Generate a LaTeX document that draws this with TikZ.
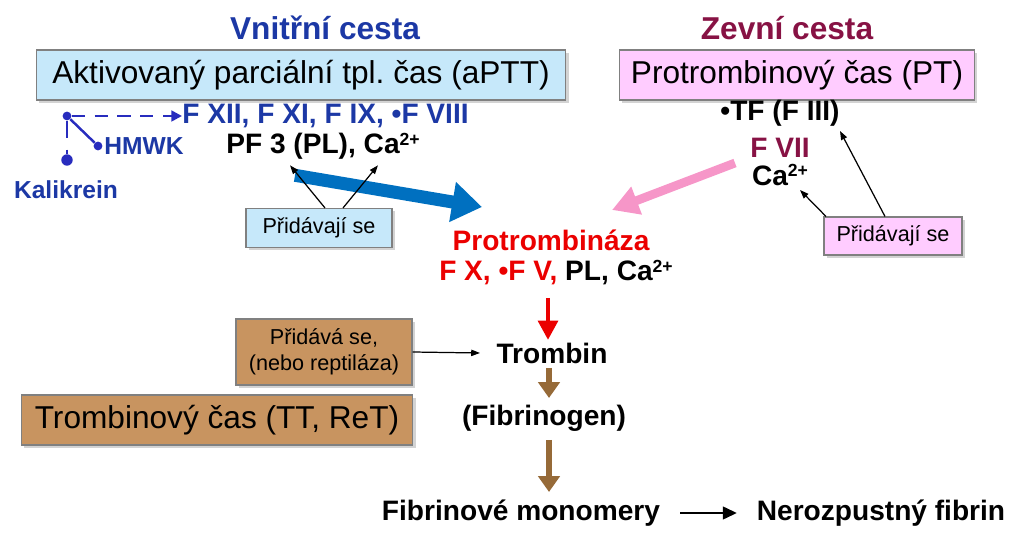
\documentclass[tikz,border=0pt]{standalone}
\usepackage{fontspec}
\setmainfont{Liberation Sans}
\usepackage{tikz}
\usetikzlibrary{arrows.meta,shadows}
\usepackage{color}
\definecolor{bb}{RGB}{198,232,250}
\definecolor{pp}{RGB}{255,204,255}
\definecolor{hn}{RGB}{200,148,96}
\definecolor{hs}{RGB}{150,106,56}
\definecolor{mb}{RGB}{28,56,165}
\definecolor{vb}{RGB}{40,44,190}
\definecolor{mr}{RGB}{135,18,68}
\definecolor{rd}{RGB}{235,0,0}
\definecolor{ab}{RGB}{0,112,192}
\definecolor{ap}{RGB}{246,150,200}
\def\catwo{Ca\raisebox{4.6pt}{\fontsize{10}{10}\selectfont 2+}}
\tikzset{
  cesta/.style={font=\fontsize{18}{21}\selectfont\bfseries},
  testbox/.style={draw=gray, line width=0.6pt, minimum height=1cm, font=\fontsize{18}{21}\selectfont,
    drop shadow={shadow xshift=1.5pt, shadow yshift=-1.5pt, opacity=0.35}},
  addbox/.style={draw=gray, line width=0.6pt, font=\fontsize{12.3}{15}\selectfont, align=center,
    drop shadow={shadow xshift=1.5pt, shadow yshift=-1.5pt, opacity=0.35}},
  factor/.style={font=\fontsize{16}{19}\selectfont\bfseries},
  small/.style={font=\fontsize{14}{17}\selectfont\bfseries, text=mb},
  dot/.style={circle, fill=vb, inner sep=0pt, minimum size=#1},
  pointer/.style={line width=0.7pt, -{Triangle[length=5pt,width=3.6pt]}},
  fat/.style={line width=#1}
}
\begin{document}
\begin{tikzpicture}[x=0.02cm, y=-0.02cm]
\useasboundingbox (0,0) rectangle (1024,536);
\node[cesta, text=mb] (vc) at (325,28) {Vnitřní cesta};
\node[cesta, text=mr] (zc) at (787,28) {Zevní cesta};
\node[testbox, fill=bb, minimum width=10.6cm] (aptt) at (301,75) {Aktivovaný parciální tpl.\ čas (aPTT)};
\node[testbox, fill=pp, minimum width=7.1cm] (pt) at (797,75) {Protrombinový čas (PT)};

\node[factor, text=mb, anchor=west, inner sep=0pt] (fxii) at (182,116) {F XII, F XI, F IX, •F VIII};
\node[factor] (pf) at (323,146) {PF 3 (PL), \catwo};
\node[small, anchor=west, inner sep=0pt] (hmwk) at (104,146) {HMWK};
\node[small] (kal) at (66,190) {Kalikrein};
\node[dot=5pt] (d1) at (67,116) {};
\node[dot=5pt] (d2) at (98,146) {};
\node[dot=6.5pt] (d3) at (67,160) {};
\draw[vb, line width=1.7pt, dash pattern=on 7.5pt off 5.5pt, -{Triangle[length=6pt,width=6pt]}] (d1) -- (fxii.west);
\draw[vb, line width=1.4pt] (d1) -- (d2);
\draw[vb, line width=1.7pt, dash pattern=on 10pt off 6.5pt] (d1) -- (d3);

\node[factor] (tf) at (780,113) {•TF (F III)};
\node[factor, text=mr] (fvii) at (780,148) {F VII};
\node[factor] (ca) at (780,175) {\catwo};

\node[factor, text=rd] (prot) at (551,240) {Protrombináza};
\node[factor] (fx) at (556,273) {\textcolor{rd}{F X, •F V,} PL, \catwo};

\draw[fat=7.4pt, ab, -{Triangle[length=17pt,width=22pt]}] ([shift={(-28,10)}]pf.south) -- ([shift={(-69,-33)}]prot.center);
\draw[fat=5pt, ap, -{Triangle[length=15pt,width=16pt]}] ([shift={(-45,15)}]fvii.center) -- ([shift={(61,-30)}]prot.center);

\node[addbox, fill=bb, minimum width=2.92cm, minimum height=0.78cm] (add1) at (319,228) {Přidávají se};
\draw[pointer] ([xshift=0.12cm]add1.north) -- ([xshift=-0.66cm]pf.south);
\draw[pointer] ([xshift=0.48cm]add1.north) -- ([xshift=1.1cm]pf.south);

\node[addbox, fill=pp, minimum width=2.76cm, minimum height=0.76cm] (add2) at (893,236) {Přidávají se};
\draw[pointer] ([xshift=-0.16cm]add2.north) -- ([shift={(60,18)}]tf.center);
\draw[pointer] ([xshift=-1.34cm]add2.north) -- ([shift={(20,15)}]ca.center);

\node[factor] (tromb) at (552,353) {Trombin};
\node[factor] (fib) at (544,418) {(Fibrinogen)};
\node[factor] (mono) at (521,513) {Fibrinové monomery};
\node[factor] (nero) at (881,513) {Nerozpustný fibrin};

\draw[fat=2.8pt, rd, -{Triangle[length=11pt,width=11pt]}] ([shift={(-8,25)}]fx.center) -- ([shift={(-4,-13)}]tromb.center);
\draw[fat=3.7pt, hs, -{Triangle[length=9pt,width=12pt]}] ([shift={(-3,15)}]tromb.center) -- ([shift={(5,-20)}]fib.center);
\draw[fat=3.7pt, hs, -{Triangle[length=9pt,width=12pt]}] ([shift={(5,22)}]fib.center) -- ([shift={(28,-21)}]mono.center);
\draw[fat=1.7pt, -{Triangle[length=8pt,width=7pt]}] ([shift={(159,0)}]mono.center) -- ([shift={(-144,0)}]nero.center);

\node[addbox, fill=hn, minimum width=3.52cm, minimum height=1.32cm] (add3) at (324,352) {Přidává se,\\(nebo reptiláza)};
\draw[pointer] (add3.east) -- ([shift={(-72,0)}]tromb.center);
\node[testbox, fill=hn, minimum width=7.84cm] (tt) at (217,420) {Trombinový čas (TT, ReT)};
\end{tikzpicture}
\end{document}
